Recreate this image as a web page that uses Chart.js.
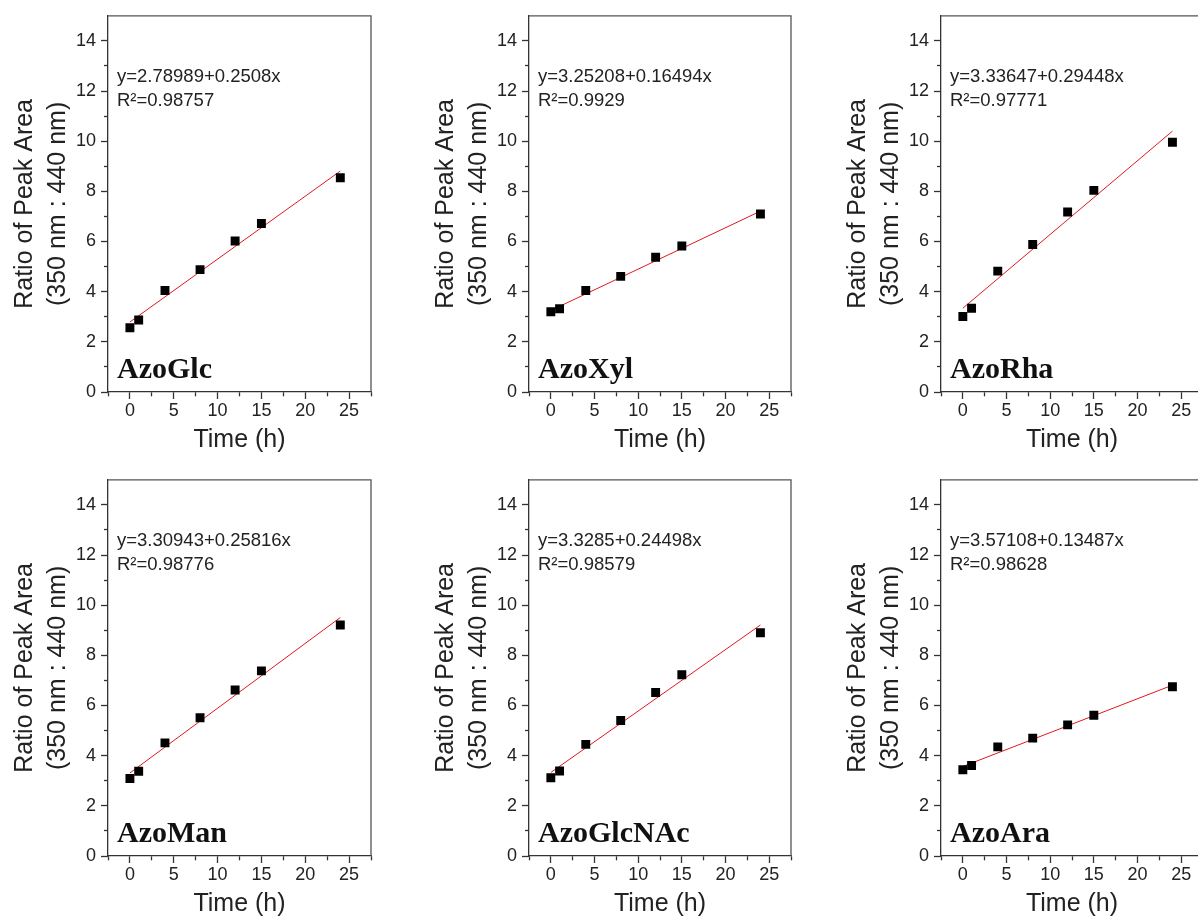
<!DOCTYPE html>
<html>
<head>
<meta charset="utf-8">
<script src="https://cdn.jsdelivr.net/npm/chart.js@4.4.0/dist/chart.umd.min.js"></script>
<style>
  html, body { margin: 0; padding: 0; background: #fff; overflow: hidden; width: 1198px; height: 916px; }
  .panel { position: absolute; width: 400px; height: 458px; }
</style>
</head>
<body>
<div class="panel" style="left:0px;top:0px"><canvas id="c0" width="400" height="458"></canvas></div>
<div class="panel" style="left:421px;top:0px"><canvas id="c1" width="400" height="458"></canvas></div>
<div class="panel" style="left:833px;top:0px"><canvas id="c2" width="400" height="458"></canvas></div>
<div class="panel" style="left:0px;top:464px"><canvas id="c3" width="400" height="458"></canvas></div>
<div class="panel" style="left:421px;top:464px"><canvas id="c4" width="400" height="458"></canvas></div>
<div class="panel" style="left:833px;top:464px"><canvas id="c5" width="400" height="458"></canvas></div>
<script>
// sampling times (h)
const times = [0, 1, 4, 8, 12, 15, 24]
const samples = ['AzoGlc', 'AzoXyl', 'AzoRha', 'AzoMan', 'AzoGlcNAc', 'AzoAra']

// ratio of peak area (350 nm : 440 nm)
const azoGlc = [2.56, 2.87, 4.05, 4.88, 6.02, 6.72, 8.54]
const azoXyl = [3.20, 3.32, 4.05, 4.61, 5.37, 5.82, 7.10]
const azoRha = [3.01, 3.34, 4.82, 5.88, 7.18, 8.04, 9.96]
const azoMan = [3.09, 3.38, 4.51, 5.51, 6.62, 7.38, 9.21]
const azoGlcNAc = [3.12, 3.39, 4.45, 5.40, 6.52, 7.23, 8.90]
const azoAra = [3.44, 3.61, 4.35, 4.70, 5.23, 5.61, 6.75]

// linear fit lines, ends at t = 0 and t = 24
const fitX = [0, 24]
const fitGlc = [2.79, 8.81]
const fitXyl = [3.25, 7.21]
const fitRha = [3.34, 10.40]
const fitMan = [3.31, 9.51]
const fitGlcNAc = [3.33, 9.21]
const fitAra = [3.57, 6.81]

const equations = ['y=2.78989+0.2508x', 'y=3.25208+0.16494x', 'y=3.33647+0.29448x',
  'y=3.30943+0.25816x', 'y=3.3285+0.24498x', 'y=3.57108+0.13487x']
const r2Labels = ['R\u00b2=0.98757', 'R\u00b2=0.9929', 'R\u00b2=0.97771',
  'R\u00b2=0.98776', 'R\u00b2=0.98579', 'R\u00b2=0.98628']

// ticks
const xMajor = [0, 5, 10, 15, 20, 25]
const xMinor = [-2.5, 2.5, 7.5, 12.5, 17.5, 22.5, 27.5]
const yMajor = [0, 2, 4, 6, 8, 10, 12, 14]
const yMinor = [1, 3, 5, 7, 9, 11, 13]

const ratios = [azoGlc, azoXyl, azoRha, azoMan, azoGlcNAc, azoAra]
const fits = [fitGlc, fitXyl, fitRha, fitMan, fitGlcNAc, fitAra]
const xTicks = xMajor.concat(xMinor).sort((a, b) => a - b)
const yTicks = yMajor.concat(yMinor).sort((a, b) => a - b)

const SANS = '"Liberation Sans", Arial, sans-serif'
const SERIF = '"Liberation Serif", "Times New Roman", serif'
const rightPad = [29, 30, 30, 29, 30, 30]

const isMinor = (c, major) => c && c.tick && !major.includes(c.tick.value)

// box around the plot (top and right edges)
const framePlugin = {
  id: 'frame',
  beforeDatasetsDraw(chart) {
    const a = chart.chartArea
    const ctx = chart.ctx
    ctx.save()
    ctx.strokeStyle = '#555'
    ctx.lineWidth = 1.3
    ctx.beginPath()
    ctx.moveTo(a.left, a.top)
    ctx.lineTo(a.right, a.top)
    ctx.lineTo(a.right, a.bottom)
    ctx.stroke()
    ctx.restore()
  }
}

const textPlugin = {
  id: 'panelText',
  afterDraw(chart, args, opts) {
    const a = chart.chartArea
    const ctx = chart.ctx
    ctx.save()
    ctx.fillStyle = '#222'
    ctx.font = '18.5px ' + SANS
    ctx.textBaseline = 'middle'
    ctx.fillText(opts.eq, a.left + 9, a.top + 61)
    ctx.fillText(opts.r2, a.left + 9, a.top + 85)
    ctx.fillStyle = '#111'
    ctx.font = 'bold 30px ' + SERIF
    ctx.textBaseline = 'alphabetic'
    ctx.fillText(opts.name, a.left + 9, a.bottom - 14)
    ctx.restore()
  }
}

function makeChart(i) {
  return new Chart(document.getElementById('c' + i), {
    data: {
      datasets: [
        {
          type: 'scatter',
          data: times.map((t, k) => ({ x: t, y: ratios[i][k] })),
          pointStyle: 'rect',
          pointRadius: 6.3,
          backgroundColor: '#000',
          borderColor: '#000',
          borderWidth: 0
        },
        {
          type: 'line',
          data: fitX.map((t, k) => ({ x: t, y: fits[i][k] })),
          borderColor: '#e3161e',
          borderWidth: 1,
          pointRadius: 0,
          fill: false
        }
      ]
    },
    options: {
      responsive: false,
      animation: false,
      layout: { padding: { top: 15, right: rightPad[i], bottom: 0, left: 0 } },
      plugins: {
        legend: { display: false },
        tooltip: { enabled: false },
        panelText: { eq: equations[i], r2: r2Labels[i], name: samples[i] }
      },
      scales: {
        x: {
          type: 'linear',
          min: -2.5,
          max: 27.5,
          afterBuildTicks: s => { s.ticks = xTicks.map(v => ({ value: v })) },
          afterFit: s => { s.height = 66 },
          ticks: {
            autoSkip: false,
            maxRotation: 0,
            padding: 1,
            color: '#222',
            font: { family: SANS, size: 18 },
            callback: v => xMajor.includes(v) ? String(v) : ''
          },
          grid: {
            drawOnChartArea: false,
            tickLength: 7,
            tickColor: '#333',
            tickWidth: 1.3,
            tickBorderDash: c => isMinor(c, xMajor) ? [4, 100] : []
          },
          border: { color: '#333', width: 1.3 },
          title: {
            display: true,
            text: 'Time (h)',
            color: '#222',
            font: { family: SANS, size: 25 },
            padding: { top: 0, bottom: 3 }
          }
        },
        y: {
          type: 'linear',
          min: 0,
          max: 15,
          afterBuildTicks: s => { s.ticks = yTicks.map(v => ({ value: v })) },
          afterFit: s => { s.width = 108 },
          ticks: {
            autoSkip: false,
            padding: 5,
            color: '#222',
            font: { family: SANS, size: 18 },
            callback: v => yMajor.includes(v) ? String(v) : ''
          },
          grid: {
            drawOnChartArea: false,
            tickLength: 7,
            tickColor: '#333',
            tickWidth: 1.3,
            tickBorderDash: c => isMinor(c, yMajor) ? [4, 100] : [],
            tickBorderDashOffset: c => isMinor(c, yMajor) ? 101 : 0
          },
          border: { color: '#333', width: 1.3 },
          title: {
            display: true,
            text: ['Ratio of Peak Area', '(350 nm : 440 nm)'],
            color: '#222',
            font: { family: SANS, size: 25, lineHeight: 1.32 },
            padding: { top: 9, bottom: 0 }
          }
        }
      }
    },
    plugins: [framePlugin, textPlugin]
  })
}

const charts = samples.map((s, i) => makeChart(i))
</script>
</body>
</html>
